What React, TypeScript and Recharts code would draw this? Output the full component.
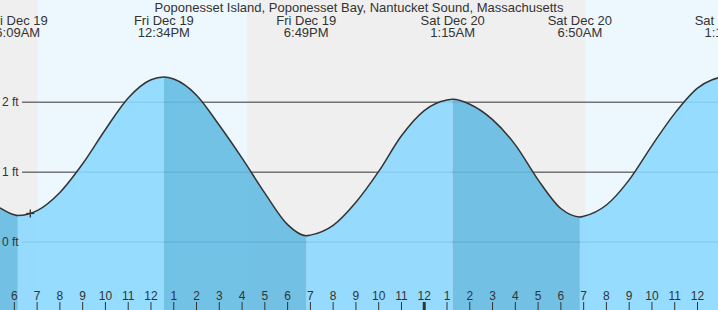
import React from 'react';
import { ComposedChart, Area, Line, XAxis, YAxis, ReferenceArea, ReferenceDot } from 'recharts';

// --- layout & look ---
const W = 718;
const H = 310;
const FONT = '"Liberation Sans", Arial, Helvetica, sans-serif';
const INK = '#333333';
const DAY_BG = '#edf7fe';
const NIGHT_BG = '#efefef';
const RISE_FILL = '#8cd8fe';
const FALL_FILL = '#64bbe3';

// time axis = hours since Fri Dec 19, 00:00
const viewStart = 5.37;
const viewEnd = 36.9;
const depthMin = -0.97;
const depthMax = 3.46;

// --- tide height (ft) ---
const tideTimes = [
  5.37, 6, 6.15, 7, 8, 9, 10, 11, 12, 12.567,
  13, 14, 15, 16, 17, 18, 18.817,
  19, 20, 21, 22, 23, 24, 25, 25.25,
  26, 27, 28, 29, 30, 30.833,
  31, 32, 33, 34, 35, 36, 37.29,
];
const tideHeights = [
  0.49, 0.39, 0.38, 0.45, 0.71, 1.12, 1.61, 2.06, 2.32, 2.36,
  2.33, 2.1, 1.67, 1.2, 0.7, 0.25, 0.09,
  0.1, 0.24, 0.57, 1.01, 1.52, 1.88, 2.03, 2.04,
  1.97, 1.75, 1.39, 0.89, 0.48, 0.36,
  0.37, 0.53, 0.89, 1.38, 1.84, 2.2, 2.38,
];

// --- high / low tide events ---
const eventTimes = [6.15, 12.567, 18.817, 25.25, 30.833, 37.29];
const eventKinds = ['low', 'high', 'low', 'high', 'low', 'high'];
const eventDays = ['Fri Dec 19', 'Fri Dec 19', 'Fri Dec 19', 'Sat Dec 20', 'Sat Dec 20', 'Sat Dec 20'];
const eventClock = ['6:09AM', '12:34PM', '6:49PM', '1:15AM', '6:50AM', '1:17PM'];

// --- night (sunset -> sunrise) ---
const nightStarts = [5.37, 16.22];
const nightEnds = [7.03, 31.08];

const hourTicks = [
  6, 7, 8, 9, 10, 11, 12, 13, 14, 15, 16, 17, 18, 19, 20, 21,
  22, 23, 24, 25, 26, 27, 28, 29, 30, 31, 32, 33, 34, 35, 36,
];
const footTicks = [0, 1, 2];

// current-time marker
const nowTime = 6.7;
const nowHeight = 0.41;

const title = 'Poponesset Island, Poponesset Bay, Nantucket Sound, Massachusetts';

// split the curve in rising (light) and falling (dark) legs
const rows = tideTimes.map((t, i) => {
  const h = tideHeights[i];
  const atEvent = eventTimes.includes(t);
  const k = eventTimes.findIndex(e => e > t);
  const rising = k >= 0 && eventKinds[k] === 'high';
  return {
    t,
    h,
    rise: atEvent || rising ? h : null,
    fall: atEvent || !rising ? h : null,
  };
});

const noMargin = { top: 0, right: 0, bottom: 0, left: 0 };

const GridTick = (props: any) => (
  <g>
    <line x1={22} x2={W} y1={props.y} y2={props.y} stroke={INK} strokeWidth={1} />
  </g>
);

const FootTick = (props: any) => (
  <text x={2} y={props.y + 4} fontSize={12} fontFamily={FONT} fill={INK} textAnchor="start">
    {props.payload.value} ft
  </text>
);

const HourTick = (props: any) => {
  const v = props.payload.value;
  const label = v % 12 === 0 ? 12 : v % 12;
  return (
    <g>
      <line x1={props.x} x2={props.x} y1={H - 8} y2={H} stroke={INK} strokeWidth={v % 24 === 0 ? 3 : 1} />
      <text x={props.x} y={H - 10} fontSize={12} fontFamily={FONT} fill={INK} textAnchor="middle">
        {label}
      </text>
    </g>
  );
};

const EventTick = (props: any) => {
  const i = eventTimes.indexOf(props.payload.value);
  return (
    <g>
      <text x={props.x} y={25} fontSize={13} fontFamily={FONT} fill={INK} textAnchor="middle">
        {eventDays[i]}
      </text>
      <text x={props.x} y={37} fontSize={13} fontFamily={FONT} fill={INK} textAnchor="middle">
        {eventClock[i]}
      </text>
    </g>
  );
};

const NowMark = (props: any) => (
  <g>
    <line x1={props.cx - 4} x2={props.cx + 4} y1={props.cy} y2={props.cy} stroke={INK} strokeWidth={1.3} />
    <line x1={props.cx} x2={props.cx} y1={props.cy - 4} y2={props.cy + 4} stroke={INK} strokeWidth={1.3} />
  </g>
);

const App: React.FC = () => {
  return (
    <div style={{ position: 'relative', width: W, height: H, background: DAY_BG, overflow: 'hidden' }}>
      <style>{'body{margin:0}'}</style>

      {/* background: night bands + grid lines */}
      <div style={{ position: 'absolute', left: 0, top: 0 }}>
        <ComposedChart width={W} height={H} data={rows} margin={noMargin}>
          <XAxis type="number" dataKey="t" domain={[viewStart, viewEnd]} allowDataOverflow hide />
          <YAxis
            type="number"
            domain={[depthMin, depthMax]}
            allowDataOverflow
            ticks={footTicks}
            interval={0}
            mirror
            axisLine={false}
            tickLine={false}
            tick={GridTick}
          />
          {nightStarts.map((s, i) => (
            <ReferenceArea
              key={i}
              x1={s}
              x2={nightEnds[i]}
              fill={NIGHT_BG}
              fillOpacity={1}
              stroke="none"
              ifOverflow="hidden"
            />
          ))}
        </ComposedChart>
      </div>

      {/* tide curve + labels */}
      <div style={{ position: 'absolute', left: 0, top: 0 }}>
        <ComposedChart width={W} height={H} data={rows} margin={noMargin}>
          <XAxis
            type="number"
            dataKey="t"
            domain={[viewStart, viewEnd]}
            allowDataOverflow
            ticks={hourTicks}
            interval={0}
            mirror
            axisLine={false}
            tickLine={false}
            tick={HourTick}
          />
          <XAxis
            xAxisId="events"
            orientation="top"
            type="number"
            dataKey="t"
            domain={[viewStart, viewEnd]}
            allowDataOverflow
            ticks={eventTimes}
            interval={0}
            mirror
            axisLine={false}
            tickLine={false}
            tick={EventTick}
          />
          <YAxis
            type="number"
            domain={[depthMin, depthMax]}
            allowDataOverflow
            ticks={footTicks}
            interval={0}
            mirror
            axisLine={false}
            tickLine={false}
            tick={FootTick}
          />
          <Area
            type="monotone"
            dataKey="rise"
            stroke="none"
            fill={RISE_FILL}
            fillOpacity={0.9}
            baseValue="dataMin"
            dot={false}
            activeDot={false}
            isAnimationActive={false}
          />
          <Area
            type="monotone"
            dataKey="fall"
            stroke="none"
            fill={FALL_FILL}
            fillOpacity={0.9}
            baseValue="dataMin"
            dot={false}
            activeDot={false}
            isAnimationActive={false}
          />
          <Line
            type="monotone"
            dataKey="h"
            stroke={INK}
            strokeWidth={1.5}
            dot={false}
            activeDot={false}
            isAnimationActive={false}
          />
          <ReferenceDot x={nowTime} y={nowHeight} r={4} shape={NowMark} />
        </ComposedChart>
      </div>

      <div
        style={{
          position: 'absolute',
          top: 0,
          left: 0,
          width: W,
          textAlign: 'center',
          fontFamily: FONT,
          fontSize: 13,
          lineHeight: '15px',
          color: INK,
        }}
      >
        {title}
      </div>
    </div>
  );
};

export default App;
